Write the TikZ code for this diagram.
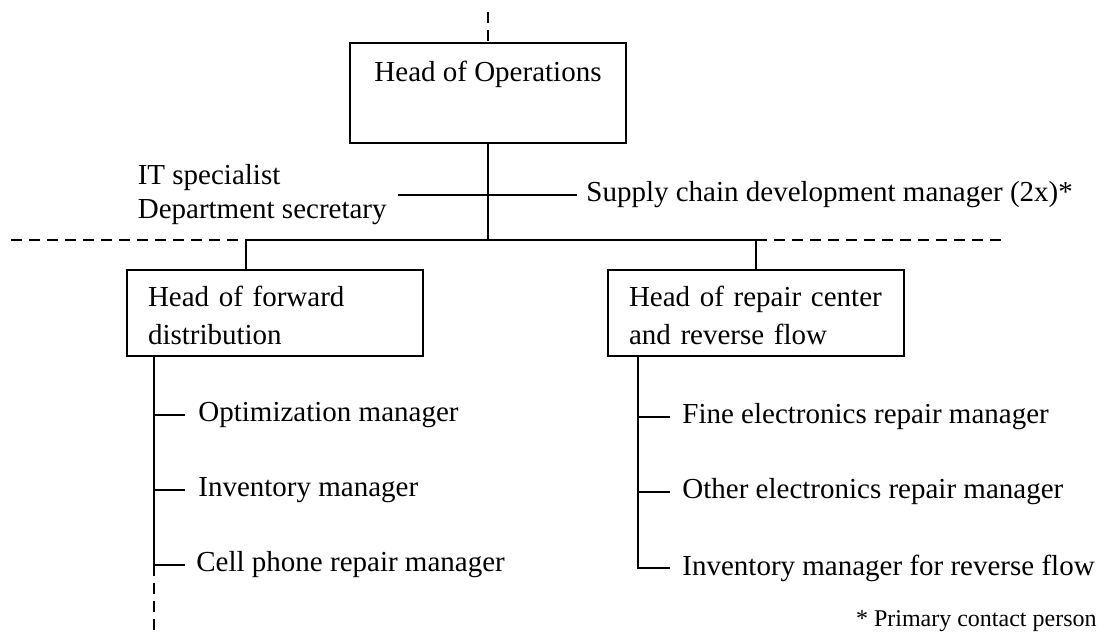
\documentclass[tikz,border=0pt]{standalone}
\usepackage{fontspec}
\setmainfont{Liberation Serif}
\usetikzlibrary{positioning}
\tikzset{
	org line/.style={line width=1.2pt},
	dashed link/.style={line width=1.2pt, dash pattern=on 5.5pt off 3.5pt},
	top box/.style={draw, line width=1pt, inner sep=0pt, minimum width=138pt, text height=19pt, text depth=31pt, font=\fontsize{14.5}{17}\selectfont},
	unit box/.style={draw, line width=1pt, align=left, text width=127pt, inner xsep=10.5pt, inner ysep=0pt, text height=18pt, text depth=25pt, font=\fontsize{14.5}{19}\selectfont},
	staff text/.style={inner sep=0pt, align=left, font=\fontsize{14.5}{17}\selectfont},
	note text/.style={inner sep=0pt, font=\fontsize{12}{14}\selectfont},
}
\begin{document}
\begin{tikzpicture}[x=0.5pt, y=-0.5pt]
\useasboundingbox (0,0) rectangle (1104,632);

\node[top box, anchor=north] (hop) at (488,42) {Head of Operations};
\node[unit box, anchor=north west] (fd) at (126,269) {Head of forward\\distribution};
\node[unit box, anchor=north west] (rc) at (607,269) {Head of repair center\\and reverse flow};

\node[staff text, anchor=east] (its) at (387,195) {IT specialist\\Department secretary};
\node[staff text, anchor=west] (scm) at (586,195) {Supply chain development manager (2x)*};

\coordinate (jm) at (488,240);
\coordinate (jl) at (246,240);
\coordinate (jr) at (756,240);
\coordinate (dt) at (488,12);
\coordinate (dl) at (11,240);
\coordinate (dr) at (1006,240);
\coordinate (db) at (154,632);

\coordinate (l1) at (154,415);
\coordinate (l2) at (154,490);
\coordinate (l3) at (154,565);
\coordinate (r1) at (638,417);
\coordinate (r2) at (638,492);
\coordinate (r3) at (638,568);

\node[staff text, right=22pt of l1] (om) {Optimization manager};
\node[staff text, right=22pt of l2] (im) {Inventory manager};
\node[staff text, right=21pt of l3] (cp) {Cell phone repair manager};
\node[staff text, right=22pt of r1] (fe) {Fine electronics repair manager};
\node[staff text, right=22pt of r2] (oe) {Other electronics repair manager};
\node[staff text, right=22pt of r3] (ir) {Inventory manager for reverse flow};

\node[note text, anchor=base east] (note) at (1097,626) {* Primary contact person};

\draw[org line] (hop.south) -- (jm);
\draw[org line] (fd.north -| jl) -- (jl) -- (jr) -- (rc.north -| jr);
\draw[org line] ([xshift=5.5pt]its.east) -- ([xshift=-4.5pt]scm.west);

\draw[org line] (fd.south -| l1) -- (l3) -- ([xshift=-5.5pt]cp.west);
\draw[org line] (l1) -- ([xshift=-6.5pt]om.west);
\draw[org line] (l2) -- ([xshift=-6.5pt]im.west);

\draw[org line] (rc.south -| r1) -- (r3) -- ([xshift=-6pt]ir.west);
\draw[org line] (r1) -- ([xshift=-6pt]fe.west);
\draw[org line] (r2) -- ([xshift=-6pt]oe.west);

\draw[dashed link] (dt) -- (hop.north);
\draw[dashed link] (dl) -- (jl);
\draw[dashed link] (jr) -- (dr);
\draw[dashed link] (l3) -- (db);
\end{tikzpicture}
\end{document}
